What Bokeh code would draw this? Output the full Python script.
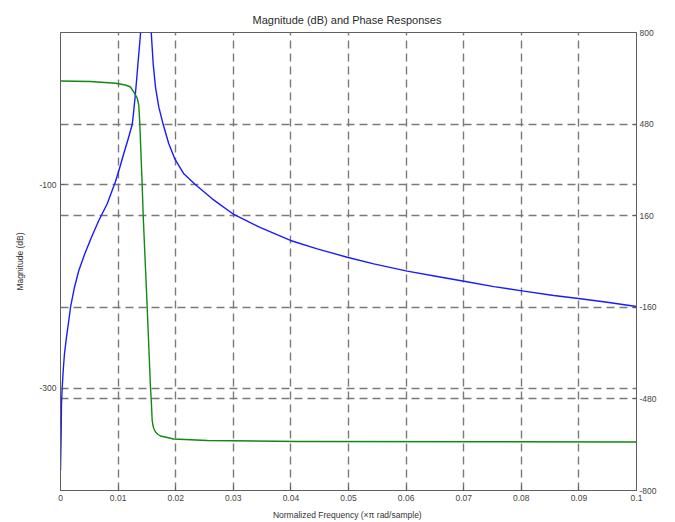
import math

from bokeh.embed import file_html
from bokeh.models import (ColumnDataSource, FixedTicker, Grid, Label, LinearAxis,
                          NumeralTickFormatter, Range1d)
from bokeh.plotting import figure
from bokeh.resources import INLINE

# Magnitude response (dB) of the filter, normalized frequency (x pi rad/sample)
mag_freq = [0.0, 0.00012, 0.00017, 0.0003, 0.00047, 0.00069, 0.00104, 0.00144,
            0.00174, 0.00243, 0.00318, 0.00422, 0.00538, 0.00665, 0.00811,
            0.00955, 0.01024, 0.01099, 0.01172, 0.01245, 0.01267, 0.01293,
            0.01319, 0.01345, 0.01372, 0.01389,
            0.0142, 0.0148, 0.0153, 0.0157,
            0.01609, 0.01649, 0.01707, 0.01783, 0.0188, 0.01984, 0.02141,
            0.02344, 0.02634, 0.03009, 0.03472, 0.03993,
            0.04457, 0.04977, 0.05439, 0.06019, 0.0654, 0.07031, 0.07523,
            0.08043, 0.08564, 0.09028, 0.09491, 0.1]
mag_db = [-381.0, -341.6, -315.4, -299.0, -282.6, -266.1, -249.8, -233.4,
          -220.3, -200.6, -184.2, -167.7, -151.4, -134.9, -118.5,
          -96.6, -83.8, -69.0, -55.2, -40.5, -29.6, -14.9,
          1.9, 19.6, 37.3, 49.1,
          65.0, 95.0, 80.0, 55.0,
          19.3, -3.7, -23.4, -40.5, -59.4, -74.2, -89.0,
          -99.8, -113.6, -129.0, -142.0, -154.6,
          -162.8, -171.1, -177.6, -184.8, -190.1, -195.0, -200.0,
          -204.5, -208.8, -212.0, -215.4, -219.6]

# Phase response (degrees)
phase_freq = [0.0, 0.00521, 0.00955, 0.01128, 0.01215, 0.01273, 0.01328,
              0.01345, 0.01359, 0.01377, 0.01418, 0.01436, 0.01505, 0.01563,
              0.01575, 0.01592, 0.01606, 0.0162, 0.01649, 0.01693, 0.01736,
              0.01852, 0.01962, 0.02552, 0.04115, 0.1]
phase_deg = [630.6, 628.8, 622.9, 616.6, 609.6, 591.4, 572.9,
             560.0, 545.0, 481.0, 267.2, 159.0, -159.7, -443.7,
             -482.1, -555.5, -573.0, -583.4, -595.6, -604.3, -609.6,
             -614.8, -620.1, -625.3, -628.8, -630.6]

x_ticks = [0.0, 0.01, 0.02, 0.03, 0.04, 0.05, 0.06, 0.07, 0.08, 0.09, 0.1]
mag_ticks = [-300, -100]
phase_ticks = [-800, -480, -160, 160, 480, 800]

FONT = "Liberation Sans"
AXIS_COLOR = "#5f5f5f"
GRID_COLOR = "#7a7a7a"
TEXT_COLOR = "#444444"

p = figure(width=675, height=522, output_backend="svg", toolbar_location=None,
           x_range=Range1d(0.0, 0.1), y_range=Range1d(-400.7, 50.1),
           min_border_left=60, min_border_right=39,
           min_border_top=32, min_border_bottom=32)
p.background_fill_color = "white"
p.border_fill_color = "white"
p.outline_line_color = AXIS_COLOR
p.outline_line_width = 1

p.title.text = "Magnitude (dB) and Phase  Responses"
p.title.align = "center"
p.title.text_font = FONT
p.title.text_font_size = "11px"
p.title.text_font_style = "normal"
p.title.text_color = "#2a2a2a"
p.title.standoff = 13

p.extra_y_ranges = {"phase": Range1d(-800, 800)}

# bottom axis
xa = p.xaxis[0]
xa.ticker = FixedTicker(ticks=x_ticks)
xa.formatter = NumeralTickFormatter(format="0.[00]")
xa.axis_label = "Normalized Frequency  (\u00d7\u03c0 rad/sample)"
xa.axis_label_standoff = 6
xa.major_label_standoff = 4

# left axis
ya = p.yaxis[0]
ya.ticker = FixedTicker(ticks=mag_ticks)
ya.formatter = NumeralTickFormatter(format="0")
ya.axis_label = "Magnitude (dB)"
ya.axis_label_standoff = 11
ya.major_label_standoff = 4

# right axis
ra = LinearAxis(y_range_name="phase", ticker=FixedTicker(ticks=phase_ticks),
                formatter=NumeralTickFormatter(format="0"))
ra.major_label_standoff = 3
p.add_layout(ra, "right")

for ax in (xa, ya, ra):
    ax.axis_line_color = AXIS_COLOR
    ax.major_tick_line_color = AXIS_COLOR
    ax.major_tick_in = 4
    ax.major_tick_out = 0
    ax.minor_tick_line_color = None
    ax.major_label_text_font = FONT
    ax.major_label_text_font_size = "8.5px"
    ax.major_label_text_color = TEXT_COLOR
    ax.axis_label_text_font = FONT
    ax.axis_label_text_font_size = "8.5px"
    ax.axis_label_text_font_style = "normal"
    ax.axis_label_text_color = "#333333"

# dashed grid for both y scales and the frequency ticks
for g in (p.xgrid[0], p.ygrid[0]):
    g.grid_line_color = GRID_COLOR
    g.grid_line_width = 1.4
    g.grid_line_dash = "8 5"

phase_grid = Grid(dimension=1, ticker=FixedTicker(ticks=phase_ticks),
                  y_range_name="phase", grid_line_color=GRID_COLOR,
                  grid_line_width=1.4, grid_line_dash="8 5")
p.add_layout(phase_grid)

mag_src = ColumnDataSource(data=dict(f=mag_freq, m=mag_db))
ph_src = ColumnDataSource(data=dict(f=phase_freq, ph=phase_deg))

p.line("f", "m", source=mag_src, line_color="#1a1aff", line_width=1.4,
       line_join="round")
p.line("f", "ph", source=ph_src, y_range_name="phase",
       line_color="#118811", line_width=1.4, line_join="round")

p.add_layout(Label(x=0.1, y=0, y_range_name="phase", x_offset=31,
                   text="Phase (degrees)", angle=math.pi / 2,
                   text_align="center", text_baseline="middle",
                   text_font=FONT, text_font_size="8.5px",
                   text_color="#333333"))

open("out.html", "w").write(file_html(p, INLINE))
